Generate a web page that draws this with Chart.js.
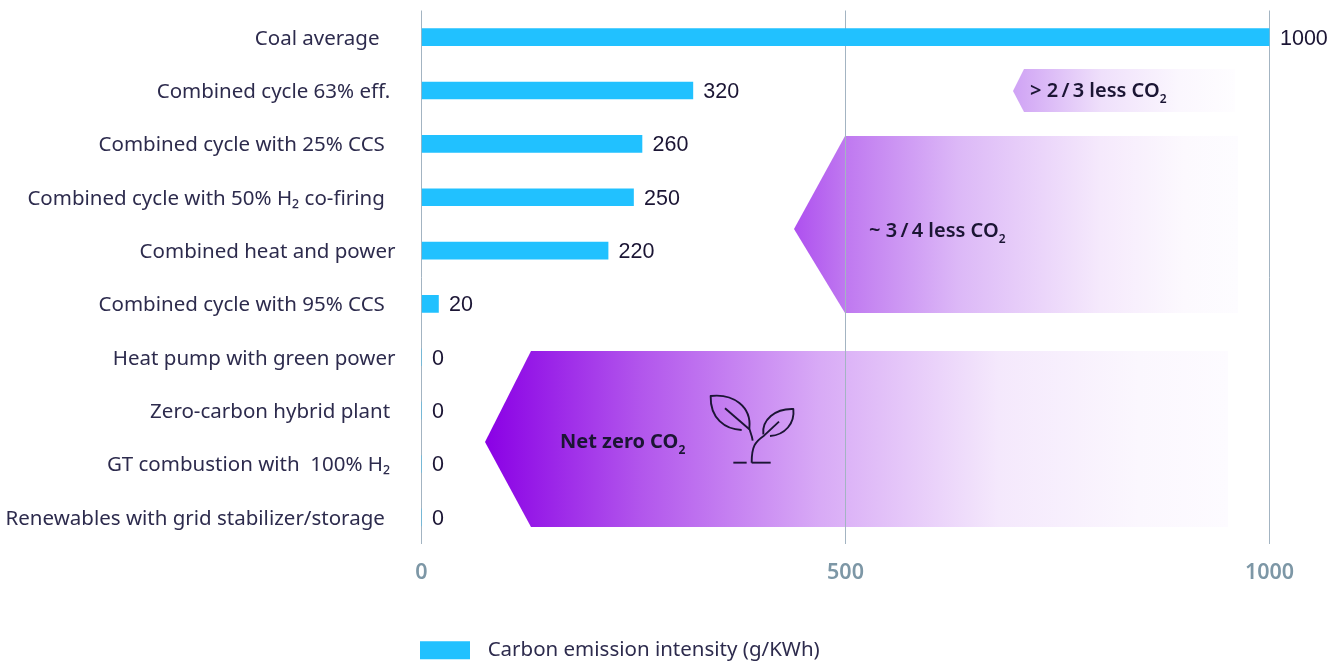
<!DOCTYPE html>
<html><head><meta charset="utf-8">
<style>html,body{margin:0;padding:0;background:#fff}canvas{display:block}</style>
<script src="https://cdn.jsdelivr.net/npm/chart.js@4"></script>
</head><body><canvas id="c" width="1341" height="664"></canvas>
<script>
const categories = ["Coal average","Combined cycle 63% eff.","Combined cycle with 25% CCS","Combined cycle with 50% H₂ co-firing","Combined heat and power","Combined cycle with 95% CCS","Heat pump with green power","Zero-carbon hybrid plant","GT combustion with  100% H₂","Renewables with grid stabilizer/storage"];
const emissions = [1000,320,260,250,220,20,0,0,0,0];
const trailingSpaces = [3,1,2,2,0,2,0,1,1,2];
const xTicks = [0,500,1000];
const seriesName = "Carbon emission intensity (g/KWh)";
const calloutText = ["> 2\u2009/\u20093 less CO","~ 3\u2009/\u20094 less CO","Net zero CO"];

const FONT = '"Noto Sans"';
const INK = '#2d2b4d', DARK = '#1b1534';

const callouts = [
 {tip:[1013,91],shoulder:1024,end:1235,top:69,bottom:112,label:calloutText[0],tx:1030,ty:91,
  stops:[[0,'#cfa2f5'],[.05,'#d3aaf5'],[.4,'#efe0fb'],[.75,'#fbf7fe'],[1,'#fefdff']]},
 {tip:[794,229],shoulder:845,end:1238,top:136,bottom:313,label:calloutText[1],tx:869,ty:231,
  stops:[[0,'#ae50ef'],[.115,'#bf78f0'],[.37,'#dcb8f7'],[.69,'#f5e9fc'],[.88,'#fcf9fe'],[1,'#fdfcff']]},
 {tip:[485,442],shoulder:531,end:1228,top:351,bottom:527,label:calloutText[2],tx:560,ty:442,weight:700,
  stops:[[0,'#8a00e5'],[.21,'#b256ec'],[.45,'#d8aaf6'],[.69,'#f4e8fc'],[.88,'#fbf7fe'],[1,'#fdfbff']]}
];

function plant(ctx){
  const ox=480, oy=340, s=1/3;
  const P=(x,y)=>[ox+x*s,oy+y*s];
  ctx.save();
  ctx.strokeStyle=DARK; ctx.lineWidth=1.9; ctx.lineCap='butt'; ctx.lineJoin='round';
  const path=(pts)=>{ctx.beginPath();ctx.moveTo(...P(...pts[0]));
    for(let i=1;i<pts.length;i++){const p=pts[i];
      if(p.length===2)ctx.lineTo(...P(...p));
      else ctx.bezierCurveTo(...P(p[0],p[1]),...P(p[2],p[3]),...P(p[4],p[5]));}
    ctx.stroke();};
  path([[785,270],[735,268,690,235,692,168],[760,160,815,200,808,265],[808,270,816,285,818,302]]);
  path([[735,205],[808,268]]);
  path([[850,283],[845,240,885,205,940,207],[945,250,915,285,870,288]]);
  path([[897,245],[852,287],[825,305,815,320,815,368]]);
  path([[760,368],[800,368]]);
  path([[815,368],[872,368]]);
  ctx.restore();
}

const decor = {
  id:'decor',
  afterLayout(chart){
    const lg=chart.legend;
    lg.left=410; lg.right=1341; lg.top=630;
  },
  beforeDraw(chart){
    const ctx=chart.ctx;
    for(const c of callouts){
      const g=ctx.createLinearGradient(c.tip[0],0,c.end,0);
      c.stops.forEach(s=>g.addColorStop(s[0],s[1]));
      ctx.beginPath();
      ctx.moveTo(c.tip[0],c.tip[1]);
      ctx.lineTo(c.shoulder,c.top);
      ctx.lineTo(c.end,c.top);
      ctx.lineTo(c.end,c.bottom);
      ctx.lineTo(c.shoulder,c.bottom);
      ctx.closePath();
      ctx.fillStyle=g; ctx.fill();
    }
  },
  afterDatasetsDraw(chart){
    const ctx=chart.ctx;
    const meta=chart.getDatasetMeta(0);
    ctx.save();
    ctx.textBaseline='middle'; ctx.textAlign='left';
    ctx.fillStyle=DARK;
    ctx.font='21.5px "Liberation Sans"';
    meta.data.forEach((el,i)=>ctx.fillText(String(emissions[i]),el.x+10.5,el.y+1.5));
    for(const c of callouts){
      ctx.font=`${c.weight||600} 20px ${FONT}`;
      ctx.fillStyle=DARK;
      ctx.fillText(c.label,c.tx,c.ty);
      const w=ctx.measureText(c.label).width;
      ctx.font=`${c.weight||600} 12px ${FONT}`;
      ctx.fillText('2',c.tx+w,c.ty+9);
    }
    ctx.restore();
    plant(ctx);
  }
};

new Chart(document.getElementById('c'),{
  type:'bar',
  data:{labels:categories,datasets:[{label:seriesName,data:emissions,backgroundColor:'#21c1ff',barThickness:17,borderWidth:0}]},
  plugins:[decor],
  options:{
    indexAxis:'y',responsive:false,animation:false,
    layout:{padding:{top:10.5,right:71.5,left:0,bottom:0}},
    scales:{
      y:{
        grid:{display:false},border:{display:false},
        afterFit(s){s.width=421.5;s.paddingTop=0;s.paddingBottom=0;},
        ticks:{
          autoSkip:false,padding:18,labelOffset:1.5,color:INK,font:{family:FONT,size:20.5},
          callback(v,i){return categories[i]+'\u00A0'.repeat(trailingSpaces[i]);}
        }
      },
      x:{
        min:0,max:1000,
        afterBuildTicks(s){s.ticks=xTicks.map(v=>({value:v}));},
        afterFit(s){s.height=79.5;},
        border:{display:false},
        grid:{color:'#a3b4c2',lineWidth:1,drawTicks:false},
        ticks:{color:'#7d97a6',padding:16,maxRotation:0,font:{family:FONT,size:21.5,weight:600},
          callback(v){return String(v);}}
      }
    },
    plugins:{
      tooltip:{enabled:false},
      legend:{
        position:'bottom',align:'start',
        labels:{boxWidth:50,boxHeight:18,padding:10,color:INK,font:{family:FONT,size:20.5},
          generateLabels(chart){return [{text:'\u00A0\u200A'+seriesName,fillStyle:'#21c1ff',strokeStyle:'#21c1ff',fontColor:INK,lineWidth:0,datasetIndex:0}];}}
      }
    }
  }
});
</script></body></html>
